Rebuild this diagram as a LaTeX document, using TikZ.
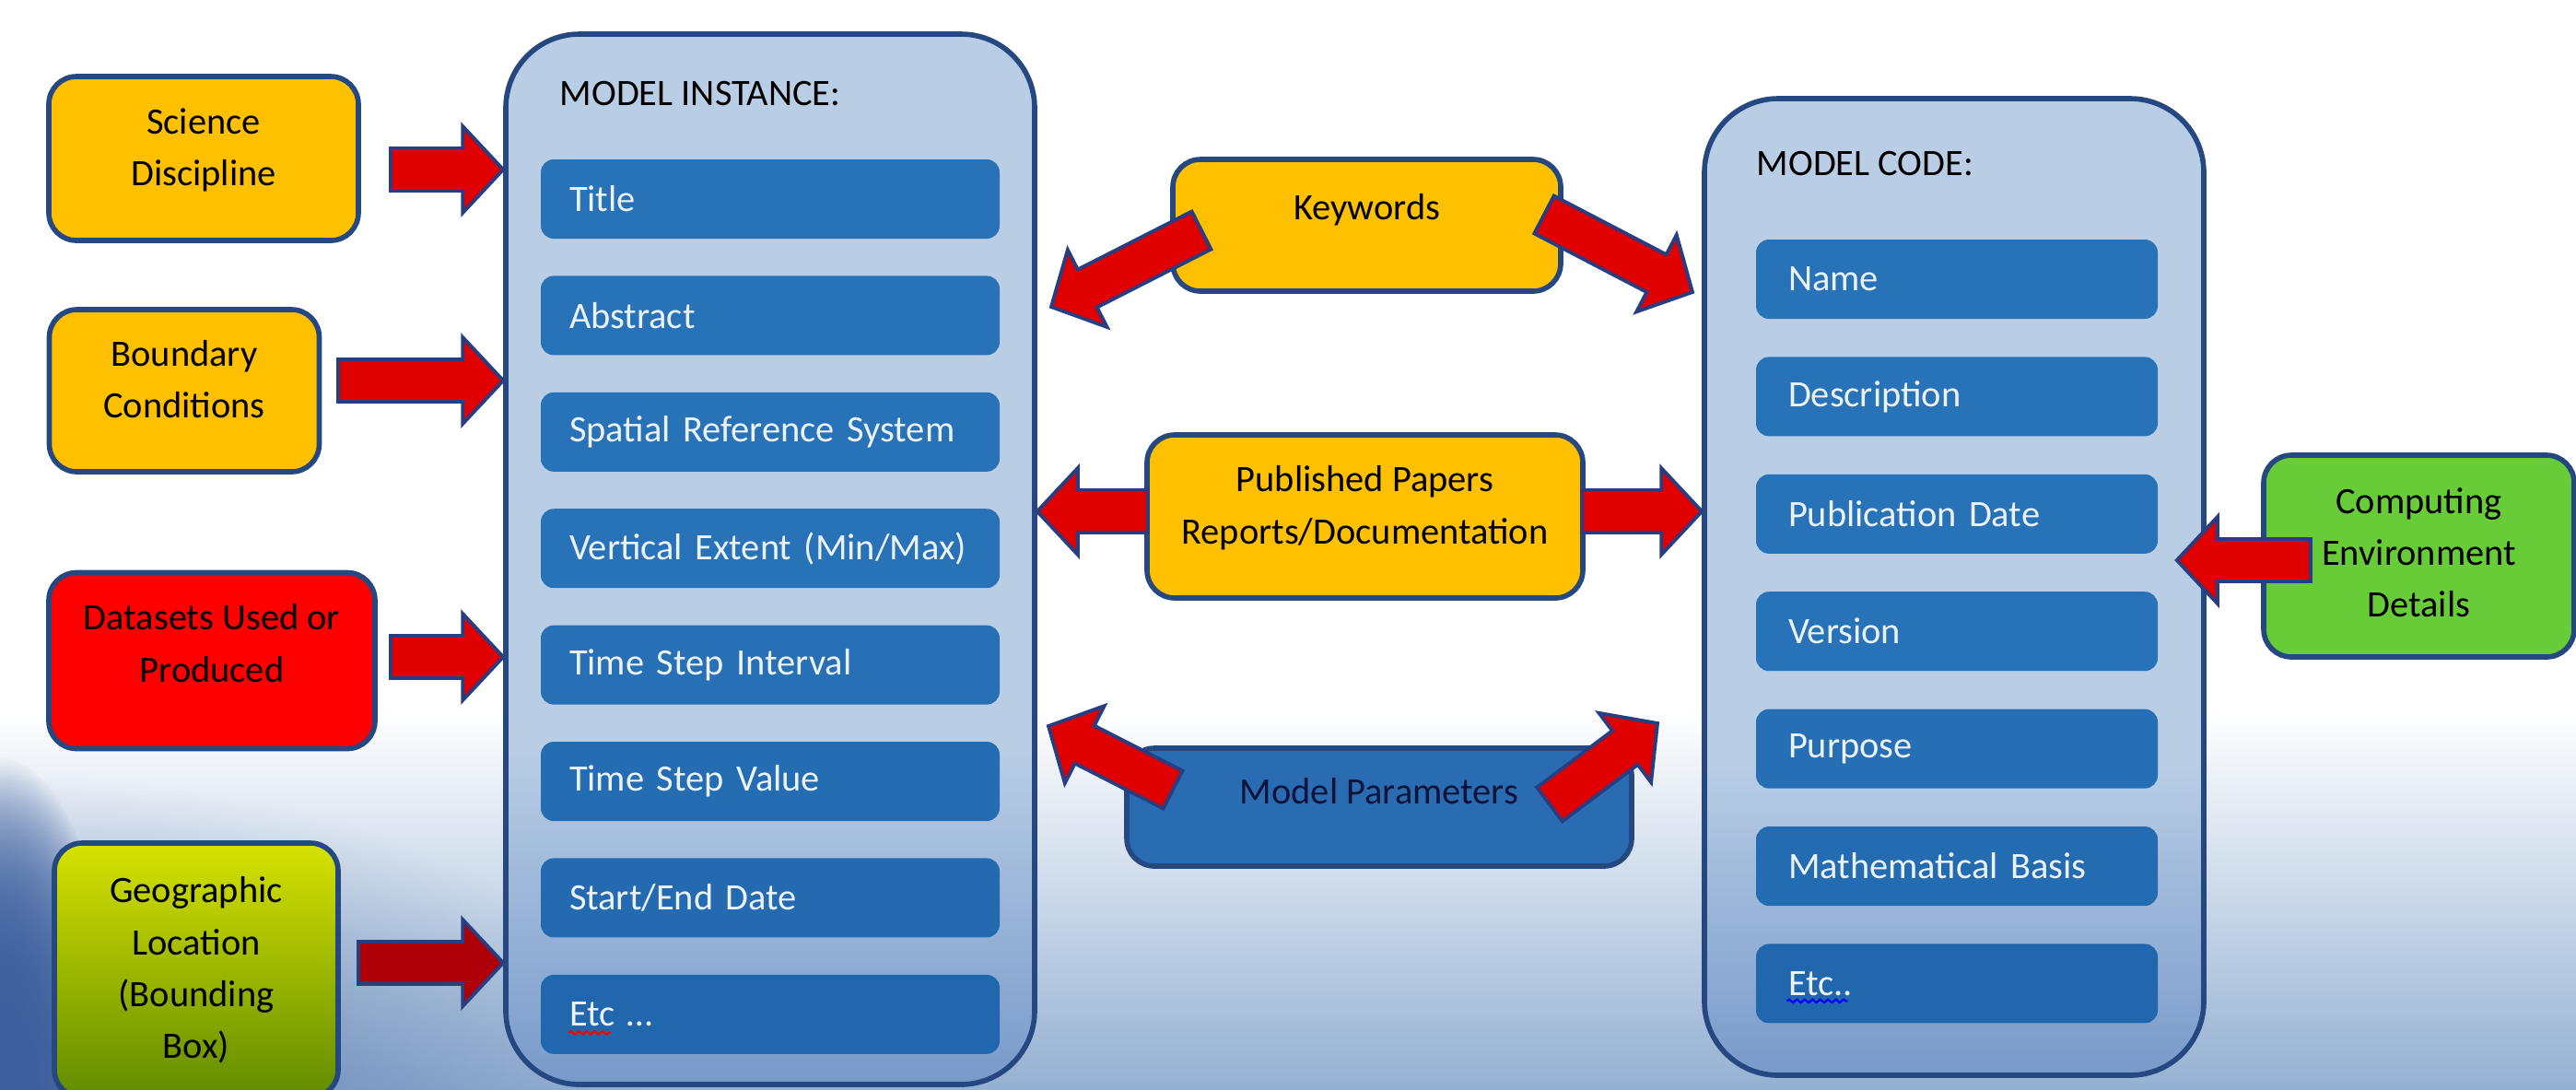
\documentclass[tikz,border=0pt]{standalone}
\usepackage{fontspec}
\setmainfont{Carlito}
\usetikzlibrary{positioning,calc,fadings,decorations.pathmorphing}
\definecolor{boxgold}{RGB}{255,192,0}
\definecolor{edgeblue}{RGB}{38,72,128}
\definecolor{panelhi}{RGB}{185,205,229}
\definecolor{panello}{RGB}{120,154,202}
\definecolor{barblue}{RGB}{40,114,184}
\definecolor{bardeep}{RGB}{22,86,156}
\definecolor{bartext}{RGB}{236,242,250}
\definecolor{arrowred}{RGB}{225,0,0}
\definecolor{arrowdark}{RGB}{175,0,10}
\definecolor{arrowedge}{RGB}{40,62,130}
\definecolor{compgreen}{RGB}{104,204,56}
\definecolor{geotop}{RGB}{214,226,0}
\definecolor{geobot}{RGB}{98,140,0}
\definecolor{bgmid}{RGB}{198,210,229}
\definecolor{bgblue}{RGB}{148,176,210}
\definecolor{bgdark}{RGB}{62,96,158}
\definecolor{parblue}{RGB}{42,108,178}
\definecolor{partext}{RGB}{12,20,60}
\newcommand{\boxfont}{\fontsize{11.5}{16}\selectfont}
% extra depth under the last line lifts the text a little inside its box
\newcommand{\lowstrut}[1]{\rule[-#1]{0pt}{0pt}}
% panels stay light down to about two thirds, then darken
\pgfdeclareverticalshading{panelfade}{100bp}{color(0bp)=(panello); color(25bp)=(panello); color(41bp)=(panelhi); color(100bp)=(panelhi)}
\tikzfading[name=cornerfade,inner color=transparent!0,outer color=transparent!100]
\tikzset{
  panel/.style={rectangle,rounded corners=0.8cm,draw=edgeblue,line width=1.6pt,shade,shading=panelfade},
  paneltitle/.style={font=\boxfont,inner sep=0pt,anchor=west},
  fieldbar/.style={rectangle,rounded corners=0.14cm,fill=barblue!#1!bardeep,text=bartext,font=\boxfont,minimum height=0.86cm,inner xsep=0.31cm,text width=4.36cm,align=left},
  fieldbar/.default=100,
  codefield/.style={fieldbar=#1,inner xsep=0.35cm,text width=3.66cm},
  codefield/.default=100,
  inbox/.style={rectangle,rounded corners=0.3cm,draw=edgeblue,line width=1.6pt,align=center,font=\boxfont,text=black},
  goldbox/.style={inbox,fill=boxgold},
  blockedge/.style={draw=arrowedge,line width=1.1pt,line join=miter},
  squiggle/.style={line width=0.6pt,decorate,decoration={snake,amplitude=0.5pt,segment length=2.4pt}}
}
% fat outlined arrow from a tail point to a tip point
\newcommand{\blockarrow}[3][arrowred]{%
  \path #2 coordinate (ba-t) #3 coordinate (ba-h);
  \path ($(ba-h)!0.44cm!(ba-t)$) coordinate (ba-b);
  \filldraw[blockedge,fill=#1]
    ($(ba-t)!0.23cm!90:(ba-h)$) -- ($(ba-b)!0.23cm!90:(ba-h)$) --
    ($(ba-b)!0.47cm!90:(ba-h)$) -- (ba-h) --
    ($(ba-b)!0.47cm!-90:(ba-h)$) -- ($(ba-b)!0.23cm!-90:(ba-h)$) --
    ($(ba-t)!0.23cm!-90:(ba-h)$) -- cycle;
}

\begin{document}
\begin{tikzpicture}
  % backdrop
  \clip (0,0) rectangle (27.96,-11.82);
  \fill[white] (0,0) rectangle (27.96,-11.82);
  \shade[top color=white,middle color=bgmid,bottom color=bgblue] (0,-7.7) rectangle (27.96,-11.82);
  \fill[bgdark,path fading=cornerfade,fill opacity=0.6] (0,-11.82) ellipse (7cm and 3.4cm);
  \foreach \k in {1,2,3}
    \fill[bgdark,path fading=cornerfade] (0,-11.82) ellipse (1.3cm and 3.6cm);

  % model instance panel
  \node[panel,minimum width=5.74cm,minimum height=11.40cm] (inst) at (8.36,-6.07) {};
  \node[paneltitle] (insttitle) at (6.07,-1.02) {MODEL INSTANCE:};
  \node[fieldbar] (ititle) at (8.36,-2.16) {Title};
  \node[fieldbar,below=0.39cm of ititle] (iabstract) {Abstract};
  \node[fieldbar,below=0.39cm of iabstract] (ispatial) {Spatial Reference System};
  \node[fieldbar,below=0.39cm of ispatial] (ivertical) {Vertical Extent (Min/Max)};
  \node[fieldbar=92,below=0.39cm of ivertical] (iinterval) {Time Step Interval};
  \node[fieldbar=82,below=0.39cm of iinterval] (ivalue) {Time Step Value};
  \node[fieldbar=70,below=0.39cm of ivalue] (istartend) {Start/End Date};
  \node[fieldbar=60,below=0.39cm of istartend] (ietc) {Etc \ldots};
  \draw[squiggle,red] ([xshift=0.31cm,yshift=-0.2cm]ietc.west) -- ++(0.46,0);

  % model code panel
  \node[panel,minimum width=5.42cm,minimum height=10.60cm] (code) at (21.21,-6.37) {};
  \node[paneltitle] (codetitle) at (19.06,-1.78) {MODEL CODE:};
  \node[codefield] (cname) at (21.24,-3.03) {Name};
  \node[codefield,below=0.40cm of cname] (cdesc) {Description};
  \node[codefield,below=0.40cm of cdesc] (cpubdate) {Publication Date};
  \node[codefield,below=0.40cm of cpubdate] (cversion) {Version};
  \node[codefield=90,below=0.40cm of cversion] (cpurpose) {Purpose};
  \node[codefield=78,below=0.40cm of cpurpose] (cmath) {Mathematical Basis};
  \node[codefield=62,below=0.40cm of cmath] (cetc) {Etc..};
  \draw[squiggle,blue] ([xshift=0.34cm,yshift=-0.19cm]cetc.west) -- ++(0.66,0);

  % inputs on the left
  \node[goldbox,minimum width=3.36cm,minimum height=1.78cm] (science) at (2.21,-1.72) {Science\\Discipline\lowstrut{0.25cm}};
  \node[goldbox,minimum width=2.93cm,minimum height=1.76cm] (boundary) at (2.00,-4.24) {Boundary\\Conditions\lowstrut{0.25cm}};
  \node[inbox,fill=red,minimum width=3.54cm,minimum height=1.91cm] (datasets) at (2.30,-7.17) {Datasets Used or\\Produced\lowstrut{0.38cm}};
  \node[inbox,top color=geotop,bottom color=geobot,minimum width=3.08cm,minimum height=2.76cm] (geo) at (2.13,-10.53) {Geographic\\Location\\(Bounding\\Box)};

  % shared items in the middle
  \node[goldbox,minimum width=4.21cm,minimum height=1.43cm,text height=0.3cm,text depth=0.43cm] (keywords) at (14.835,-2.445) {Keywords};
  \node[goldbox,minimum width=4.73cm,minimum height=1.77cm] (papers) at (14.815,-5.605) {Published Papers\\Reports/Documentation\lowstrut{0.25cm}};
  \node[inbox,fill=parblue,text=partext,minimum width=5.48cm,minimum height=1.28cm,text height=0.3cm,text depth=0.37cm] (params) at (14.97,-8.76) {Model Parameters};

  % environment on the right
  \node[inbox,fill=compgreen,minimum width=3.37cm,minimum height=2.19cm] (compute) at (26.255,-6.035) {Computing\\Environment\\Details\lowstrut{0.08cm}};

  % arrow tails
  \coordinate (sciT) at (4.24,-1.84);
  \coordinate (bndT) at (3.67,-4.13);
  \coordinate (dataT) at (4.24,-7.13);
  \coordinate (geoT) at (3.89,-10.45);
  \coordinate (kwL) at (13.04,-2.50);
  \coordinate (kwLtip) at (11.41,-3.33);
  \coordinate (kwR) at (16.76,-2.33);
  \coordinate (kwRtip) at (18.37,-3.17);
  \coordinate (papL) at (12.46,-5.55);
  \coordinate (papR) at (17.17,-5.55);
  \coordinate (parL) at (12.73,-8.57);
  \coordinate (parLtip) at (11.38,-7.88);
  \coordinate (parR) at (16.82,-8.73);
  \coordinate (parRtip) at (17.99,-7.85);
  \coordinate (compT) at (25.08,-6.08);

  \blockarrow{(sciT)}{(inst.west |- sciT)}
  \blockarrow{(bndT)}{(inst.west |- bndT)}
  \blockarrow{(dataT)}{(inst.west |- dataT)}
  \blockarrow[arrowdark]{(geoT)}{(inst.west |- geoT)}
  \blockarrow{(kwL)}{(kwLtip)}
  \blockarrow{(kwR)}{(kwRtip)}
  \blockarrow{(papL)}{(inst.east |- papL)}
  \blockarrow{(papR)}{(code.west |- papR)}
  \blockarrow{(parL)}{(parLtip)}
  \blockarrow{(parR)}{(parRtip)}
  \blockarrow{(compT)}{([xshift=-0.32cm]code.east |- compT)}
\end{tikzpicture}
\end{document}
